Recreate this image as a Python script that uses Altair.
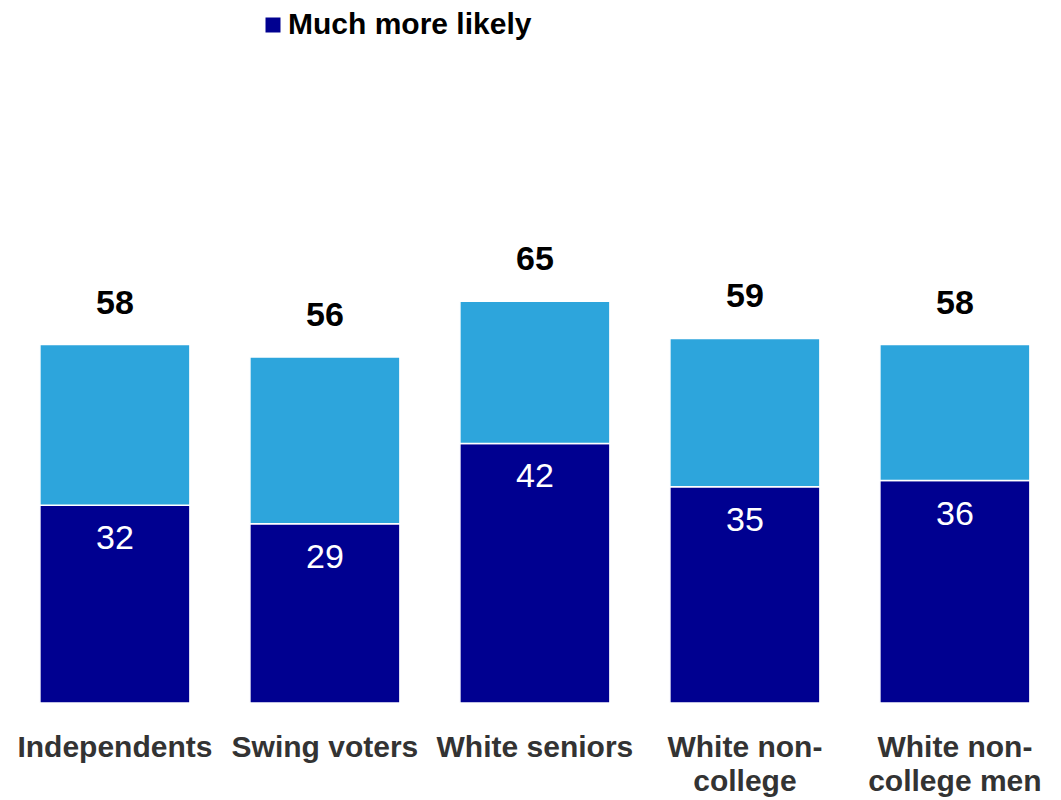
import altair as alt
import pandas as pd

categories = ["Independents", "Swing voters", "White seniors", "White non-college", "White non-college men"]
much_more = [32, 29, 42, 35, 36]
somewhat_more = [26, 27, 23, 24, 22]
totals = [58, 56, 65, 59, 58]
series = ["Much more likely", "Somewhat more likely"]
colors = ["#000090", "#2DA5DC"]

rows = []
for i, c in enumerate(categories):
    rows.append({"category": c, "series": series[0], "value": much_more[i], "order": 0})
    rows.append({"category": c, "series": series[1], "value": somewhat_more[i], "order": 1})
df = pd.DataFrame(rows)
tot = pd.DataFrame({"category": categories, "total": totals})
inner = pd.DataFrame({"category": categories, "value": much_more})

label_expr = ("indexof(datum.value,'non-')>=0 ? "
              "[substring(datum.value,0,indexof(datum.value,'non-')+4), "
              "substring(datum.value,indexof(datum.value,'non-')+4)] : datum.value")

xscale = alt.Scale(paddingInner=0.2857, paddingOuter=0.131, align=0.58)
x = alt.X("category:N", sort=categories, title=None, scale=xscale,
          axis=alt.Axis(labelExpr=label_expr, labelAngle=0, labelFontSize=30,
                        labelFontWeight="bold", labelColor="#333333", labelFont="Liberation Sans",
                        labelPadding=53, labelLineHeight=34, ticks=False, domain=False,
                        grid=False, labelBaseline="alphabetic", labelLimit=400))
yscale = alt.Scale(domain=[0, 100], nice=False)

bars = alt.Chart(df).mark_bar(stroke="white", strokeWidth=1.5).encode(
    x=x,
    y=alt.Y("value:Q", stack="zero", scale=yscale, axis=None),
    color=alt.Color("series:N", scale=alt.Scale(domain=series, range=colors),
                    legend=alt.Legend(values=["Much more likely"], title=None, orient="none",
                                      legendX=250, legendY=-75, symbolType="square",
                                      symbolSize=225, symbolStrokeWidth=0, labelFontSize=30,
                                      labelFontWeight="bold", labelColor="#000000",
                                      labelFont="Liberation Sans", labelOffset=0,
                                      labelLimit=500)),
    order=alt.Order("order:Q", sort="ascending"),
)

total_text = alt.Chart(tot).mark_text(fontSize=34, fontWeight="bold", color="#000000",
                                      font="Liberation Sans", baseline="middle", dy=-41).encode(
    x=alt.X("category:N", sort=categories),
    y=alt.Y("total:Q", scale=yscale),
    text="total:Q",
)

inner_text = alt.Chart(inner).mark_text(fontSize=34, color="#FFFFFF",
                                        font="Liberation Sans", baseline="middle", dy=34).encode(
    x=alt.X("category:N", sort=categories),
    y=alt.Y("value:Q", scale=yscale),
    text="value:Q",
)

chart = alt.layer(bars, total_text, inner_text).properties(
    width=1045, height=618,
    padding={"left": 0, "top": 77, "right": 0, "bottom": 95},
    autosize=alt.AutoSizeParams(type="none"),
    background="white",
).configure_view(strokeWidth=0)

chart.save("out.html", embed_options={"renderer": "svg", "actions": False})
